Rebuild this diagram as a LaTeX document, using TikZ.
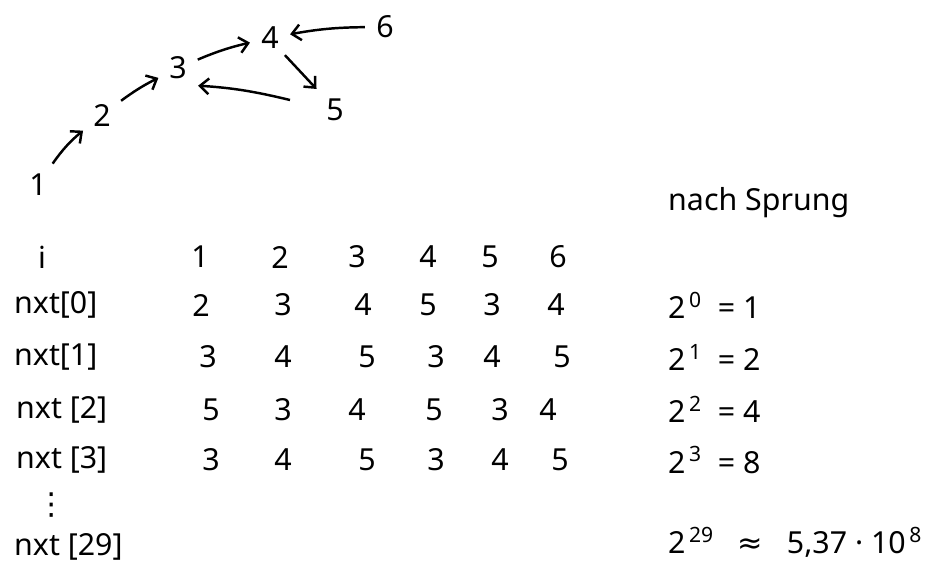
\documentclass[tikz,border=0pt]{standalone}
\usepackage{fontspec}
\setmainfont{Noto Sans}
\newfontfamily\dejavu{DejaVu Sans}
\usetikzlibrary{arrows.meta}
\tikzset{hand/.style={font=\LARGE},
  jump/.style={-{Straight Barb[length=5pt,width=9pt]},line width=1.4pt,shorten <=3pt,shorten >=3pt}}
\newcommand{\hoch}[1]{\textsuperscript{\,#1}}

\begin{document}
\begin{tikzpicture}
[x=0.02cm,y=-0.02cm,hand]
\useasboundingbox (0,0) rectangle (935,576);
% Graph of the jumps

\node(g1) at (38,185) {1};
\node(g2) at (102,115) {2};
\node(g3) at (178,68) {3};
\node(g4) at (270,38) {4};
\node(g5) at (335,110) {5};
\node(g6) at (385,27) {6};
\coordinate(s5) at (290,100);

\draw[jump] (g1) to[bend left=8] (g2);
\draw[jump] (g2) to[bend left=5] (g3);
\draw[jump] (g3) to[bend left=5] (g4);
\draw[jump,shorten <=0pt] (g4.south east) -- (g5.north west);
\draw[jump,shorten <=0pt] (s5) to[bend right=5] (g3.south east);
\draw[jump] (g6) to[bend right=5] (g4);

% Table nxt
\node(Ii) at (42,257) {i};
\node(Li0)[anchor=west] at (8,305) {nxt[0]};
\node(Li1)[anchor=west] at (8,357) {nxt[1]};
\node(Li2)[anchor=west] at (10,410) {nxt [2]};
\node(Li3)[anchor=west] at (10,460) {nxt [3]};
\node(Ldots) at (52,505) {\dejavu ⋮};
\node(Li29)[anchor=west] at (8,547) {nxt [29]};

\node(h1) at (200,257) {1};   \node(h2) at (280,257) {2};   \node(h3) at (357,257) {3};
\node(h4) at (428,257) {4};   \node(h5) at (490,257) {5};   \node(h6) at (558,257) {6};

\node(a1) at (201,305) {2};   \node(a2) at (283,305) {3};   \node(a3) at (363,305) {4};
\node(a4) at (428,305) {5};   \node(a5) at (492,305) {3};   \node(a6) at (556,305) {4};

\node(b1) at (208,357) {3};   \node(b2) at (283,357) {4};   \node(b3) at (367,357) {5};
\node(b4) at (436,357) {3};   \node(b5) at (492,357) {4};   \node(b6) at (562,357) {5};

\node(c1) at (211,410) {5};   \node(c2) at (283,410) {3};   \node(c3) at (357,410) {4};
\node(c4) at (434,410) {5};   \node(c5) at (500,410) {3};   \node(c6) at (548,410) {4};

\node(d1) at (211,460) {3};   \node(d2) at (283,460) {4};   \node(d3) at (367,460) {5};
\node(d4) at (436,460) {3};   \node(d5) at (500,460) {4};   \node(d6) at (560,460) {5};

% Number of steps per jump
\node(NS)[anchor=west] at (662,203) {nach Sprung};
\node(P0)[anchor=west] at (662,305) {2\hoch{0} \ = 1};
\node(P1)[anchor=west] at (662,357) {2\hoch{1} \ = 2};
\node(P2)[anchor=west] at (662,409) {2\hoch{2} \ = 4};
\node(P3)[anchor=west] at (662,460) {2\hoch{3} \ = 8};
\node(P29)[anchor=west] at (662,542) {2\hoch{29} \ \ {\dejavu ≈} \ \ 5,37 · 10\hoch{8}};
\end{tikzpicture}
\end{document}
